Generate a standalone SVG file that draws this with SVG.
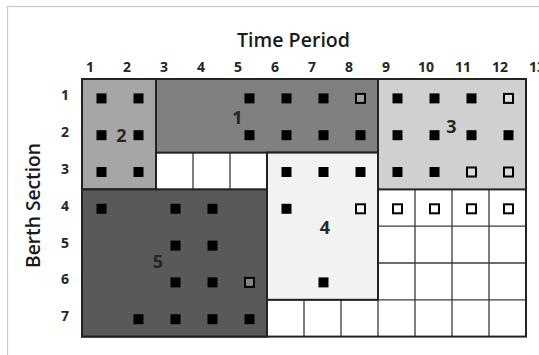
<svg xmlns="http://www.w3.org/2000/svg" width="539" height="355" viewBox="0 0 539 355">
<style>
.frame{fill:none;stroke:#c8c8c8;stroke-width:1.2}
.grid line{stroke:#3a3a3a;stroke-width:1.3}
.blk{stroke:#222;stroke-width:2}
.f{fill:#000}
.h{fill:#fff;fill-opacity:0.25;stroke:#000;stroke-width:2}
.ax{font-family:"Open Sans",sans-serif;font-weight:700;font-size:14px;fill:#262626}
.ttl{font-family:"Open Sans",sans-serif;font-weight:600;font-size:19px;fill:#1a1a1a}
.lbl{font-family:"Open Sans",sans-serif;font-weight:700;font-size:18px;fill:#262626;text-anchor:middle}
</style>
<rect width="539" height="355" fill="#fff"/>
<rect class="frame" x="7.5" y="6.5" width="620" height="420"/>
<text class="ttl" x="293.5" y="47" text-anchor="middle" textLength="113" lengthAdjust="spacingAndGlyphs">Time Period</text>
<text class="ttl" transform="translate(40,205.5) rotate(-90)" text-anchor="middle" textLength="125" lengthAdjust="spacingAndGlyphs">Berth Section</text>
<g id="col-labels" class="ax">
<text x="86" y="72">1</text><text x="123" y="72">2</text><text x="160" y="72">3</text><text x="197" y="72">4</text><text x="234" y="72">5</text><text x="271" y="72">6</text><text x="308" y="72">7</text><text x="345" y="72">8</text><text x="382" y="72">9</text><text x="418" y="72">10</text><text x="455" y="72">11</text><text x="492" y="72">12</text><text x="529" y="72">13</text>
</g>
<g id="row-labels" class="ax" text-anchor="middle">
<text x="65" y="100.4">1</text><text x="65" y="137.2">2</text><text x="65" y="174">3</text><text x="65" y="210.8">4</text><text x="65" y="247.6">5</text><text x="65" y="284.4">6</text><text x="65" y="321.2">7</text>
</g>
<g id="grid" class="grid">
<rect x="82" y="79" width="444" height="257.6" fill="#fff"/>
<line x1="119" y1="79" x2="119" y2="336.6"/><line x1="156" y1="79" x2="156" y2="336.6"/><line x1="193" y1="79" x2="193" y2="336.6"/><line x1="230" y1="79" x2="230" y2="336.6"/><line x1="267" y1="79" x2="267" y2="336.6"/><line x1="304" y1="79" x2="304" y2="336.6"/><line x1="341" y1="79" x2="341" y2="336.6"/><line x1="378" y1="79" x2="378" y2="336.6"/><line x1="415" y1="79" x2="415" y2="336.6"/><line x1="452" y1="79" x2="452" y2="336.6"/><line x1="489" y1="79" x2="489" y2="336.6"/>
<line x1="82" y1="115.8" x2="526" y2="115.8"/><line x1="82" y1="152.6" x2="526" y2="152.6"/><line x1="82" y1="189.4" x2="526" y2="189.4"/><line x1="82" y1="226.2" x2="526" y2="226.2"/><line x1="82" y1="263" x2="526" y2="263"/><line x1="82" y1="299.8" x2="526" y2="299.8"/>
<rect x="82" y="79" width="444" height="257.6" fill="none" stroke="#222" stroke-width="2"/>
</g>
<g id="block-2">
<rect class="blk" x="82" y="79" width="74" height="110.4" fill="#a6a6a6"/>
<text class="lbl" x="121.5" y="141.7">2</text>
</g>
<g id="block-1">
<rect class="blk" x="156" y="79" width="222" height="73.6" fill="#808080"/>
<text class="lbl" x="237.5" y="124">1</text>
</g>
<g id="block-3">
<rect class="blk" x="378" y="79" width="148" height="110.4" fill="#d0d0d0"/>
<text class="lbl" x="451.5" y="133">3</text>
</g>
<g id="block-4">
<rect class="blk" x="267" y="152.6" width="111" height="147.2" fill="#f2f2f2"/>
<text class="lbl" x="325" y="234">4</text>
</g>
<g id="block-5">
<rect class="blk" x="82" y="189.4" width="185" height="147.2" fill="#595959"/>
<text class="lbl" x="158" y="268">5</text>
</g>
<g id="markers">
<!-- row 1 -->
<rect class="f" x="96.5" y="93.4" width="10" height="10"/><rect class="f" x="133.5" y="93.4" width="10" height="10"/><rect class="f" x="244.5" y="93.4" width="10" height="10"/><rect class="f" x="281.5" y="93.4" width="10" height="10"/><rect class="f" x="318.5" y="93.4" width="10" height="10"/><rect class="h" x="356" y="93.9" width="9" height="9"/><rect class="f" x="392.5" y="93.4" width="10" height="10"/><rect class="f" x="429.5" y="93.4" width="10" height="10"/><rect class="f" x="466.5" y="93.4" width="10" height="10"/><rect class="h" x="504" y="93.9" width="9" height="9"/>
<!-- row 2 -->
<rect class="f" x="96.5" y="130.2" width="10" height="10"/><rect class="f" x="133.5" y="130.2" width="10" height="10"/><rect class="f" x="244.5" y="130.2" width="10" height="10"/><rect class="f" x="281.5" y="130.2" width="10" height="10"/><rect class="f" x="318.5" y="130.2" width="10" height="10"/><rect class="f" x="355.5" y="130.2" width="10" height="10"/><rect class="f" x="392.5" y="130.2" width="10" height="10"/><rect class="f" x="429.5" y="130.2" width="10" height="10"/><rect class="f" x="466.5" y="130.2" width="10" height="10"/><rect class="f" x="503.5" y="130.2" width="10" height="10"/>
<!-- row 3 -->
<rect class="f" x="96.5" y="167" width="10" height="10"/><rect class="f" x="133.5" y="167" width="10" height="10"/><rect class="f" x="281.5" y="167" width="10" height="10"/><rect class="f" x="318.5" y="167" width="10" height="10"/><rect class="f" x="355.5" y="167" width="10" height="10"/><rect class="f" x="392.5" y="167" width="10" height="10"/><rect class="f" x="429.5" y="167" width="10" height="10"/><rect class="h" x="467" y="167.5" width="9" height="9"/><rect class="h" x="504" y="167.5" width="9" height="9"/>
<!-- row 4 -->
<rect class="f" x="96.5" y="203.8" width="10" height="10"/><rect class="f" x="170.5" y="203.8" width="10" height="10"/><rect class="f" x="207.5" y="203.8" width="10" height="10"/><rect class="f" x="281.5" y="203.8" width="10" height="10"/><rect class="h" x="356" y="204.3" width="9" height="9"/><rect class="h" x="393" y="204.3" width="9" height="9"/><rect class="h" x="430" y="204.3" width="9" height="9"/><rect class="h" x="467" y="204.3" width="9" height="9"/><rect class="h" x="504" y="204.3" width="9" height="9"/>
<!-- row 5 -->
<rect class="f" x="170.5" y="240.6" width="10" height="10"/><rect class="f" x="207.5" y="240.6" width="10" height="10"/>
<!-- row 6 -->
<rect class="f" x="170.5" y="277.4" width="10" height="10"/><rect class="f" x="207.5" y="277.4" width="10" height="10"/><rect class="h" x="245" y="277.9" width="9" height="9"/><rect class="f" x="318.5" y="277.4" width="10" height="10"/>
<!-- row 7 -->
<rect class="f" x="133.5" y="314.2" width="10" height="10"/><rect class="f" x="170.5" y="314.2" width="10" height="10"/><rect class="f" x="207.5" y="314.2" width="10" height="10"/><rect class="f" x="244.5" y="314.2" width="10" height="10"/>
</g>
<g id="connectors"/>
</svg>
